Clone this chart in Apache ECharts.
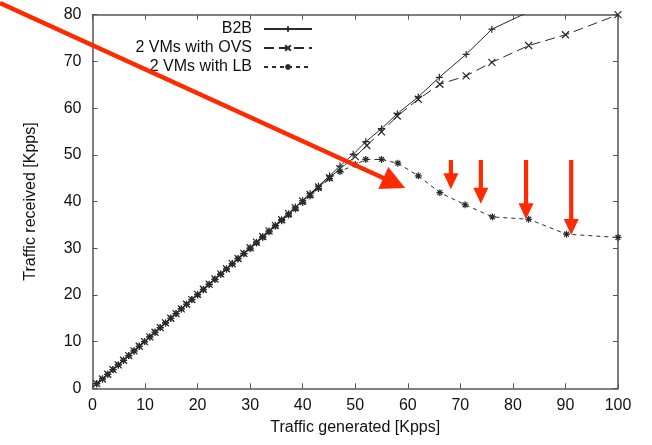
<!DOCTYPE html>
<html>
<head>
<meta charset="utf-8">
<script src="https://cdn.jsdelivr.net/npm/echarts@6/dist/echarts.min.js"></script>
<style>html,body{margin:0;padding:0;background:#fff;}#c{width:652px;height:445px;}</style>
</head>
<body>
<div id="c"></div>
<script>
// ---- data ----
var b2bX = [0.8, 1.9, 2.9, 3.9, 4.9, 5.9, 6.9, 7.9, 8.9, 9.9, 10.9, 11.9, 12.9, 13.9, 14.9, 15.9, 16.9, 17.9, 18.9, 20.0, 21.1, 22.2, 23.3, 24.4, 25.5, 26.6, 27.7, 28.8, 30.0, 31.2, 32.4, 33.6, 34.8, 36.0, 37.3, 38.6, 40.0, 41.4, 43.0, 45.1, 47.1, 49.6, 52.0, 55.0, 58.0, 62.0, 66.0, 71.1, 76.0, 86.0];
var b2bY = [1.0, 2.0, 3.0, 4.0, 5.0, 6.0, 7.0, 8.0, 9.0, 10.0, 11.0, 12.0, 13.0, 14.0, 15.0, 16.0, 17.0, 18.0, 19.0, 20.1, 21.2, 22.3, 23.4, 24.5, 25.6, 26.7, 27.8, 28.9, 30.1, 31.3, 32.5, 33.7, 34.9, 36.1, 37.4, 38.8, 40.2, 41.7, 43.3, 45.5, 47.6, 50.1, 52.8, 55.6, 58.8, 62.4, 66.6, 71.5, 76.9, 82.2];

var ovsX = [0.8, 1.9, 2.9, 3.9, 4.9, 5.9, 6.9, 7.9, 8.9, 9.9, 10.9, 11.9, 12.9, 13.9, 14.9, 15.9, 16.9, 17.9, 18.9, 20.0, 21.1, 22.2, 23.3, 24.4, 25.5, 26.6, 27.7, 28.8, 30.0, 31.2, 32.4, 33.6, 34.8, 36.0, 37.3, 38.6, 40.0, 41.4, 43.0, 45.1, 47.1, 50.0, 52.2, 55.0, 58.0, 62.0, 66.1, 71.1, 76.0, 83.0, 90.0, 100.0];
var ovsY = [1.0, 2.0, 3.0, 4.0, 5.0, 6.0, 7.0, 8.0, 9.0, 10.0, 11.0, 12.0, 13.0, 14.0, 15.0, 16.0, 17.0, 18.0, 19.0, 20.1, 21.2, 22.3, 23.4, 24.5, 25.6, 26.7, 27.8, 28.9, 30.1, 31.3, 32.5, 33.7, 34.9, 36.1, 37.4, 38.7, 40.1, 41.5, 43.1, 45.1, 47.0, 49.6, 52.0, 54.9, 58.3, 61.9, 65.1, 66.9, 69.8, 73.4, 75.7, 80.0];

var lbX = [0.8, 1.9, 2.9, 3.9, 4.9, 5.9, 6.9, 7.9, 8.9, 9.9, 10.9, 11.9, 12.9, 13.9, 14.9, 15.9, 16.9, 17.9, 18.9, 20.0, 21.1, 22.2, 23.3, 24.4, 25.5, 26.6, 27.7, 28.8, 30.0, 31.2, 32.4, 33.6, 34.8, 36.0, 37.3, 38.6, 40.0, 41.4, 43.0, 45.1, 47.1, 50.0, 52.0, 55.0, 58.1, 62.0, 66.1, 70.9, 76.1, 83.0, 90.2, 100.0];
var lbY = [1.0, 2.0, 3.0, 4.0, 5.0, 6.0, 7.0, 8.0, 9.0, 10.0, 11.0, 12.0, 13.0, 14.0, 15.0, 16.0, 17.0, 18.0, 19.0, 20.0, 21.1, 22.2, 23.3, 24.4, 25.5, 26.6, 27.7, 28.8, 29.9, 31.1, 32.3, 33.5, 34.7, 35.9, 37.1, 38.4, 39.8, 41.2, 42.8, 44.9, 46.4, 47.9, 49.0, 49.0, 48.2, 45.5, 41.9, 39.3, 36.7, 36.2, 33.0, 32.3];

var seriesNames = ['B2B', '2 VMs with OVS', '2 VMs with LB'];
var xTicks = [0, 10, 20, 30, 40, 50, 60, 70, 80, 90, 100];
var yTicks = [0, 10, 20, 30, 40, 50, 60, 70, 80];

// red annotation arrows (data coordinates: from -> tip)
var arrowFrom = [[-17.6, 82.5], [68.2, 48.9], [73.9, 48.9], [82.5, 48.9], [91.1, 48.9]];
var arrowTip  = [[59.5, 42.9], [68.2, 42.6], [73.9, 39.5], [82.5, 36.2], [91.1, 32.8]];

function pairs(xs, ys) { return xs.map(function (x, i) { return [x, ys[i]]; }); }

var FONT = 'Liberation Sans, Arial, Helvetica, sans-serif';
var AX = '#555';
var LINE = '#2a2a2a';

var plusPath = 'path://M0,5L10,5M5,0L5,10';
var crossPath = 'path://M1,1L9,9M9,1L1,9';
var starPath = 'path://M0,5L10,5M5,0L5,10M1.5,1.5L8.5,8.5M8.5,1.5L1.5,8.5';

function mkSeries(name, data, sym, dash) {
  return {
    name: name, type: 'line', data: data, xAxisIndex: 0, yAxisIndex: 0,
    symbol: sym, symbolSize: 7, showAllSymbol: true,
    itemStyle: { color: 'none', borderColor: LINE, borderWidth: 1.2 },
    lineStyle: { color: LINE, width: 1, type: dash },
    emphasis: { disabled: true },
    animation: false, clip: true
  };
}

var chart = echarts.init(document.getElementById('c'), null, { renderer: 'canvas' });

var baseAxis = {
  axisLine: { show: true, onZero: false, lineStyle: { color: AX, width: 1.5 } },
  axisTick: { show: true, inside: true, length: 5, lineStyle: { color: AX, width: 1 } },
  splitLine: { show: false }
};

var option = {
  animation: false,
  backgroundColor: '#fff',
  textStyle: { fontFamily: FONT },
  grid: { left: 92.5, right: 34, top: 14.7, bottom: 56.7, containLabel: false },
  legend: {
    data: seriesNames,
    orient: 'vertical',
    align: 'right',
    right: 339,
    top: 21,
    itemWidth: 48,
    itemHeight: 7,
    itemGap: 3,
    padding: 0,
    textStyle: { fontFamily: FONT, fontSize: 16, color: '#111', padding: [0, 7, 0, 0] },
    selectedMode: false
  },
  xAxis: [
    Object.assign({}, baseAxis, {
      type: 'value', min: 0, max: 100, interval: 10, position: 'bottom',
      name: 'Traffic generated [Kpps]', nameLocation: 'middle', nameGap: 31,
      nameTextStyle: { fontFamily: FONT, fontSize: 16, color: '#111' },
      axisLabel: { fontFamily: FONT, fontSize: 16, color: '#111', margin: 9,
        formatter: function (v) { return xTicks.indexOf(v) >= 0 ? String(v) : ''; } }
    }),
    Object.assign({}, baseAxis, {
      type: 'value', min: 0, max: 100, interval: 10, position: 'top',
      axisLabel: { show: false }
    })
  ],
  yAxis: [
    Object.assign({}, baseAxis, {
      type: 'value', min: 0, max: 80, interval: 10, position: 'left',
      name: 'Traffic received [Kpps]', nameLocation: 'middle', nameGap: 54, nameRotate: 90,
      nameTextStyle: { fontFamily: FONT, fontSize: 16, color: '#111' },
      axisLabel: { fontFamily: FONT, fontSize: 16, color: '#111', margin: 11,
        formatter: function (v) { return yTicks.indexOf(v) >= 0 ? String(v) : ''; } }
    }),
    Object.assign({}, baseAxis, {
      type: 'value', min: 0, max: 80, interval: 10, position: 'right',
      axisLabel: { show: false }
    })
  ],
  series: [
    mkSeries(seriesNames[0], pairs(b2bX, b2bY), plusPath, 'solid'),
    mkSeries(seriesNames[1], pairs(ovsX, ovsY), crossPath, [10, 5]),
    mkSeries(seriesNames[2], pairs(lbX, lbY), starPath, [4, 4])
  ]
};
chart.setOption(option);

function arrowPoly(p0, p1, sw, hl, hw) {
  var dx = p1[0] - p0[0], dy = p1[1] - p0[1];
  var L = Math.sqrt(dx * dx + dy * dy);
  var ux = dx / L, uy = dy / L, nx = -uy, ny = ux;
  var bx = p1[0] - ux * hl, by = p1[1] - uy * hl;
  return [
    [p0[0] + nx * sw / 2, p0[1] + ny * sw / 2],
    [bx + nx * sw / 2, by + ny * sw / 2],
    [bx + nx * hw / 2, by + ny * hw / 2],
    [p1[0], p1[1]],
    [bx - nx * hw / 2, by - ny * hw / 2],
    [bx - nx * sw / 2, by - ny * sw / 2],
    [p0[0] - nx * sw / 2, p0[1] - ny * sw / 2]
  ];
}

var gfx = [];
for (var i = 0; i < arrowFrom.length; i++) {
  var a = chart.convertToPixel({ xAxisIndex: 0, yAxisIndex: 0 }, arrowFrom[i]);
  var b = chart.convertToPixel({ xAxisIndex: 0, yAxisIndex: 0 }, arrowTip[i]);
  var big = i === 0;
  gfx.push({
    type: 'polygon', z: 100,
    shape: { points: arrowPoly(a, b, big ? 4.5 : 4.2, big ? 24 : 16, big ? 24 : 15) },
    style: { fill: '#ff2a00', stroke: null }
  });
}
chart.setOption({ graphic: gfx });
</script>
</body>
</html>
